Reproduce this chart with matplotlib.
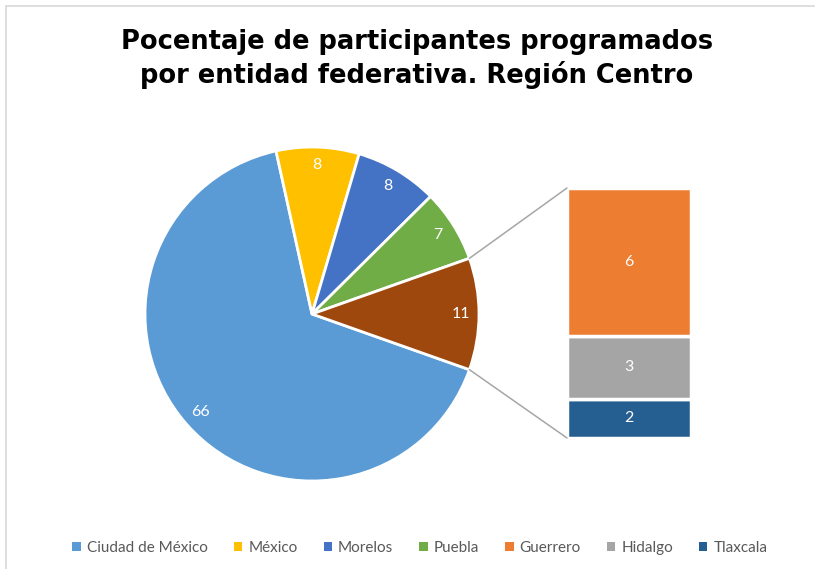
import numpy as np
import matplotlib
matplotlib.use('Agg')
import matplotlib.pyplot as plt
from matplotlib.patches import Patch, ConnectionPatch
from matplotlib.lines import Line2D

# main pie (last slice = the three small states combined)
main_names = ['Ciudad de México', 'México', 'Morelos', 'Puebla']
main_vals = [66, 8, 8, 7]
main_cols = ['#5B9BD5', '#FFC000', '#4472C4', '#70AD47']

# secondary bar (the "other" slice broken out)
sub_names = ['Guerrero', 'Hidalgo', 'Tlaxcala']
sub_vals = [6.4, 2.7, 1.7]
sub_cols = ['#ED7D31', '#A5A5A5', '#255E91']
other_col = '#9E480E'

W, H = 815, 569
fig = plt.figure(figsize=(W / 100, H / 100), dpi=100)

def px_axes(x0, y0, x1, y1):
    # axes from pixel box (top-left origin)
    return fig.add_axes([x0 / W, 1 - y1 / H, (x1 - x0) / W, (y1 - y0) / H])

# border
fig.add_artist(Line2D([6 / W, 6 / W], [0, 1 - 6 / H], color='#d9d9d9', lw=1.2))
fig.add_artist(Line2D([6 / W, 1], [1 - 6 / H, 1 - 6 / H], color='#d9d9d9', lw=1.2))

fig.text(417 / W, 1 - 59 / H, 'Pocentaje de participantes programados\npor entidad federativa. Región Centro',
         ha='center', va='center', fontsize=18.5, fontweight='bold', family='DejaVu Sans',
         color='black', linespacing=1.27)

vals = main_vals + [sum(sub_vals)]
cols = main_cols + [other_col]
ax = px_axes(145, 147, 479, 481)
start = -vals[-1] / sum(vals) * 180  # keep the "other" slice centred at 3 o'clock
wedges, texts = ax.pie(vals, colors=cols, startangle=start, counterclock=False,
                       labels=['%.0f' % v for v in vals], labeldistance=0.89,
                       wedgeprops=dict(edgecolor='white', linewidth=2),
                       textprops=dict(color='white', fontsize=11.5, family='Lato'))
for t in texts:
    t.set_ha('center')
    t.set_va('center')
ax.set_xlim(-1, 1)
ax.set_ylim(-1, 1)

# stacked bar
bx = px_axes(567, 188, 691, 438)
bottom = 0
for name, v, c in zip(sub_names[::-1], sub_vals[::-1], sub_cols[::-1]):
    bx.bar(0, v, width=1, bottom=bottom, color=c, edgecolor='white', linewidth=2.5)
    bx.text(0, bottom + v / 2, '%.0f' % v, ha='center', va='center', color='white',
            fontsize=11.5, family='Lato')
    bottom += v
bx.set_xlim(-0.5, 0.5)
bx.set_ylim(0, bottom)
bx.axis('off')

# connector lines
w = wedges[-1]
for ang, yb in [(w.theta2, bottom), (w.theta1, 0)]:
    a = np.deg2rad(ang)
    con = ConnectionPatch(xyA=(np.cos(a), np.sin(a)), coordsA=ax.transData,
                          xyB=(-0.5, yb), coordsB=bx.transData,
                          color='#a6a6a6', lw=1.1)
    fig.add_artist(con)

handles = [Patch(facecolor=c, edgecolor='none') for c in main_cols + sub_cols]
fig.legend(handles, main_names + sub_names, ncol=7, loc='center',
           bbox_to_anchor=(420 / W, 1 - 548 / H), frameon=False,
           handlelength=0.55, handleheight=0.55, handletextpad=0.4,
           columnspacing=1.7, prop=dict(family='Lato', size=11), labelcolor='#595959')

fig.savefig('out.png', dpi=100)
